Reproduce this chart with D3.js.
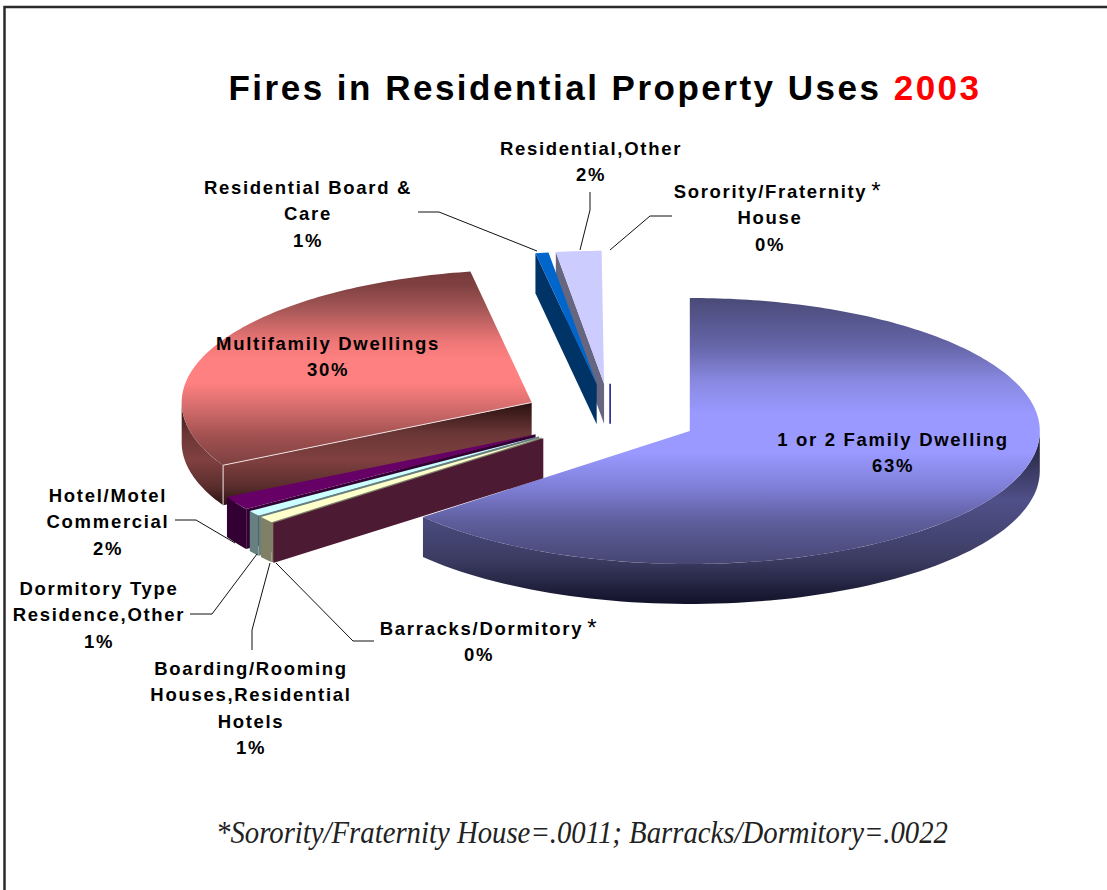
<!DOCTYPE html>
<html>
<head>
<meta charset="utf-8">
<script src="https://cdn.jsdelivr.net/npm/d3@7/dist/d3.min.js"></script>
<style>
html, body { margin: 0; padding: 0; background: #fff; }
svg { display: block; }
text { font-family: "Liberation Sans", Arial, sans-serif; fill: #000; }
.lbl { font-size: 18.5px; font-weight: bold; letter-spacing: 1.7px; text-anchor: middle; }
</style>
</head>
<body>
<svg id="chart" width="1107" height="890"></svg>
<script>
'use strict';
// clockwise from 12 o'clock, same order as the chart
const categories = ["1 or 2 Family Dwelling", "Barracks/Dormitory", "Boarding/Rooming Houses,Residential Hotels",
    "Dormitory Type Residence,Other", "Hotel/Motel Commercial", "Multifamily Dwellings",
    "Residential Board & Care", "Residential,Other", "Sorority/Fraternity House"];
// the printed labels are below
const shares = [63.8, 0.22, 0.78, 0.69, 1.69, 30.02, 0.6, 2.09, 0.11];
const percentLabels = [63, 0, 1, 1, 2, 30, 1, 2, 0];
const sliceColors = ["#9999ff", "#993366", "#ffffcc", "#ccffff", "#660066", "#ff8080", "#0066cc", "#ccccff", "#000080"];

// wrapped label text, starred = footnoted
const labelLines = [
    ["1 or 2 Family Dwelling"], ["Barracks/Dormitory*"], ["Boarding/Rooming", "Houses,Residential", "Hotels"],
    ["Dormitory Type", "Residence,Other"], ["Hotel/Motel", "Commercial"], ["Multifamily Dwellings"],
    ["Residential Board &", "Care"], ["Residential,Other"], ["Sorority/Fraternity*", "House"]
];
// [center x, first baseline]
const labelAnchors = [[893, 446], [489, 635], [251, 675], [99, 595], [108, 502], [328, 350], [308, 194], [591, 155], [778, 198]];
// lines under a starred label are centered without the star
const lineShift = { 8: -8, 1: -10 };

const leaders = [
    [[374, 641], [353, 641], [276, 563]],
    [[252, 650], [252, 630], [270, 563]],
    [[190, 614], [212, 614], [257, 554]],
    [[175, 520], [196, 520], [235, 543]],
    [[418, 212], [439, 212], [537, 251]],
    [[590, 192], [590, 210], [580, 250]],
    [[672, 216], [650, 216], [610, 250]]
];

const cx = 610.4, cy = 417, rx = 350, ry = 133, depth = 40, explode = 0.25;
// back to front
const drawOrder = [7, 8, 6, 5, 0, 4, 3, 2, 1];

const svg = d3.select("#chart");
const defs = svg.append("defs");

function addGradient(id, stops) {
    let g = defs.append("linearGradient").attr("id", id)
        .attr("gradientUnits", "userSpaceOnUse")
        .attr("x1", 0).attr("x2", 0).attr("y1", stops[0][0]).attr("y2", stops[stops.length - 1][0]);
    let span = stops[stops.length - 1][0] - stops[0][0];
    stops.forEach(s => g.append("stop").attr("offset", (s[0] - stops[0][0]) / span).attr("stop-color", s[1]));
}

addGradient("top0", [[298, "#4a4a78"], [347, "#6666aa"], [380, "#8888e0"], [413, "#9999ff"], [453, "#9999ff"],
    [487, "#7f7fd8"], [520, "#5f5f9f"], [562, "#474775"]]);
addGradient("wall0", [[430, "#1c1c30"], [465, "#36365c"], [500, "#50508a"], [540, "#434370"], [562, "#3a3a60"], [603, "#12122a"]]);
addGradient("top5", [[270, "#763a3a"], [285, "#7f4040"], [310, "#a85858"], [343, "#f07878"], [360, "#ff8080"], [383, "#ff8080"],
    [410, "#d06a6a"], [437, "#a05050"], [465, "#7d4040"]]);
addGradient("wall5", [[403, "#2a1010"], [433, "#6a3636"], [460, "#804040"], [487, "#5a2d2d"], [506, "#2a1010"]]);

function halfTone(c) {
    let r = d3.rgb(c);
    return d3.rgb(r.r / 2, r.g / 2, r.b / 2).formatHex();
}

const slices = d3.pie().sort(null).value(d => d)(shares);
const line = d3.line();
const HALF = Math.PI, FULL = 2 * Math.PI;

const pieG = svg.append("g");

for (let i of drawOrder) {
    let s = slices[i];
    let mid = (s.startAngle + s.endAngle) / 2;
    let ax = cx + Math.sin(mid) * rx * explode,
        ay = cy - Math.cos(mid) * ry * explode;
    let rim = a => [ax + Math.sin(a) * rx, ay - Math.cos(a) * ry];
    let topFill = (i == 0 || i == 5) ? "url(#top" + i + ")" : sliceColors[i];
    let wallFill = (i == 0 || i == 5) ? "url(#wall" + i + ")" : halfTone(sliceColors[i]);

    // the two slivers have no visible top in the picture
    if (s.value < 0.15) {
        pieG.append("path").attr("d", line([[ax, ay], [ax, ay + depth]]))
            .attr("stroke", sliceColors[i]).attr("stroke-width", 1.4).attr("fill", "none");
        continue;
    }
    if (s.value < 0.3) {
        let p = rim(s.endAngle);
        pieG.append("path").attr("d", line([[ax, ay], p, [p[0], p[1] + depth], [ax, ay + depth]]) + "Z")
            .attr("fill", wallFill);
        continue;
    }

    // radial wall at the start angle, only seen on the left half
    if (s.startAngle >= HALF && s.startAngle < FULL) {
        let p = rim(s.startAngle);
        pieG.append("path").attr("d", line([[ax, ay], p, [p[0], p[1] + depth], [ax, ay + depth]]) + "Z")
            .attr("fill", wallFill);
    }

    // outer wall, front half only
    let a0 = Math.max(s.startAngle, HALF / 2), a1 = Math.min(s.endAngle, 1.5 * HALF);
    if (a1 > a0) {
        let pts = d3.range(0, 81).map(k => rim(a0 + (a1 - a0) * k / 80));
        let low = pts.map(p => [p[0], p[1] + depth]).reverse();
        pieG.append("path").attr("d", line(pts.concat(low)) + "Z").attr("fill", wallFill);
    }

    // top face in page coordinates so the gradients line up with the walls
    let n = Math.max(2, Math.ceil((s.endAngle - s.startAngle) * 60));
    let topPts = d3.range(0, n + 1).map(k => rim(s.startAngle + (s.endAngle - s.startAngle) * k / n));
    pieG.append("path")
        .attr("d", line([[ax, ay]].concat(topPts)) + "Z")
        .attr("fill", topFill);

    // light seam along the cut of the multifamily slice
    if (i == 5) {
        let p = rim(s.startAngle);
        pieG.append("path").attr("d", line([[ax, ay], p, [p[0], p[1] + depth]]))
            .attr("fill", "none").attr("stroke", "#eee0e0").attr("stroke-width", 1);
    }
}

svg.append("g").selectAll("path")
    .data(leaders)
    .enter().append("path")
    .attr("d", d => line(d))
    .attr("fill", "none")
    .attr("stroke", "#111")
    .attr("stroke-width", 1);

// labels
labelLines.forEach((lines, i) => {
    let a = labelAnchors[i];
    let g = svg.append("g");
    lines.concat([percentLabels[i] + "%"]).forEach((txt, j) => {
        let t = g.append("text").attr("class", "lbl")
            .attr("x", a[0] + (j > 0 && lineShift[i] ? lineShift[i] : 0))
            .attr("y", a[1] + j * 26.4);
        if (txt.endsWith("*")) {
            t.append("tspan").text(txt.slice(0, -1));
            t.append("tspan").text("*").attr("dx", 4).attr("dy", 1)
                .style("font-weight", "normal").style("font-size", "24px");
        } else {
            t.text(txt);
        }
    });
});

let title = svg.append("text")
    .attr("x", 605).attr("y", 100)
    .attr("text-anchor", "middle")
    .style("font-size", "35px").style("font-weight", "bold").style("letter-spacing", "2.5px");
title.append("tspan").text("Fires in Residential Property Uses ");
title.append("tspan").text("2003").style("fill", "#ff0000");

svg.append("text")
    .attr("x", 216).attr("y", 843)
    .attr("textLength", 732).attr("lengthAdjust", "spacingAndGlyphs")
    .style("font-family", '"Liberation Serif", "Times New Roman", serif')
    .style("font-style", "italic").style("font-size", "30.5px").style("fill", "#222")
    .text("*Sorority/Fraternity House=.0011; Barracks/Dormitory=.0022");

// page frame, only top and left made it into the picture
svg.append("path").attr("d", line([[4.5, 890], [4.5, 7], [1107, 7]]))
    .attr("fill", "none").attr("stroke", "#2a2a2a").attr("stroke-width", 2.5);
</script>
</body>
</html>
